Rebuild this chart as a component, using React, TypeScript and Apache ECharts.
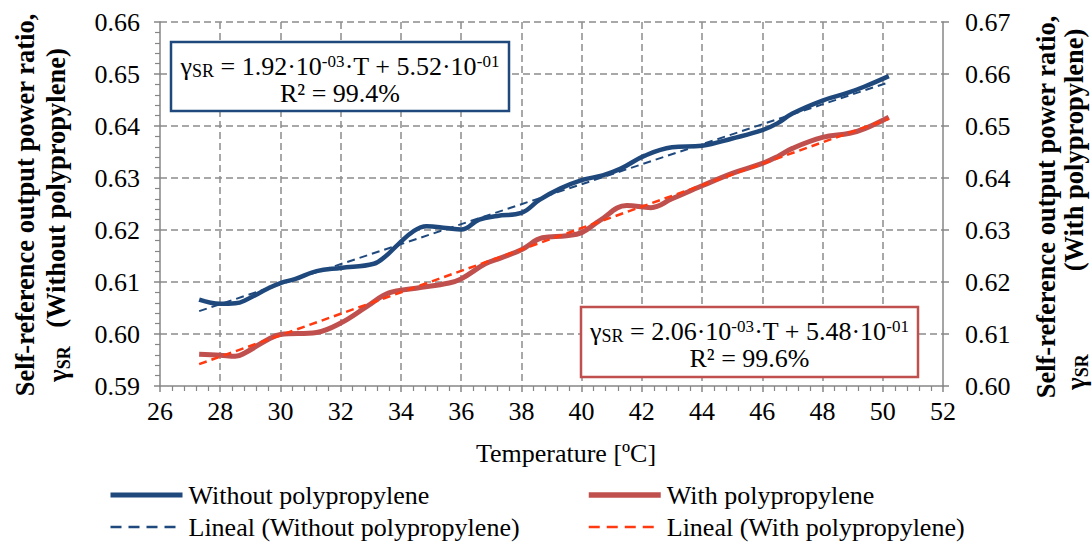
import React, { useEffect, useRef } from "react";
import * as echarts from "echarts";

const FONT = "Liberation Serif";

// Without polypropylene (left axis)
const T_WITHOUT = [27.3, 28.0, 28.5, 28.8, 29.6, 30.0, 30.5, 31.2, 32.0, 33.1, 33.5, 33.9, 34.4, 34.85, 35.5, 36.0, 36.6, 37.2, 38.0, 38.6, 39.3, 40.0, 40.7, 41.3, 42.1, 43.0, 44.0, 45.0, 46.0, 46.5, 47.0, 48.0, 48.8, 49.4, 50.2];
const V_WITHOUT = [0.6066, 0.6058, 0.6059, 0.6064, 0.6088, 0.6098, 0.6106, 0.6121, 0.6127, 0.6135, 0.615, 0.6172, 0.6197, 0.6207, 0.6204, 0.6201, 0.622, 0.6227, 0.6233, 0.6258, 0.628, 0.6296, 0.6305, 0.6318, 0.6343, 0.6359, 0.6362, 0.6376, 0.6392, 0.6405, 0.6424, 0.6449, 0.6463, 0.6476, 0.6496];

// With polypropylene (right axis)
const T_WITH = [27.3, 28.0, 28.5, 28.8, 29.6, 30.0, 31.2, 32.0, 32.9, 33.6, 34.5, 35.6, 36.0, 36.8, 37.3, 38.0, 38.7, 39.5, 40.0, 40.6, 41.5, 42.3, 43.0, 44.0, 45.0, 46.0, 46.5, 47.0, 48.0, 48.9, 49.4, 50.2];
const V_WITH = [0.6061, 0.6059, 0.6057, 0.6063, 0.609, 0.6099, 0.6103, 0.6121, 0.6154, 0.6179, 0.6188, 0.6198, 0.6206, 0.6235, 0.6246, 0.6262, 0.6285, 0.6289, 0.6295, 0.6318, 0.6347, 0.6343, 0.636, 0.6385, 0.6409, 0.6428, 0.6441, 0.6457, 0.6478, 0.6486, 0.6495, 0.6517];

// Linear trend end points
const TREND_T = [27.3, 50.2];
const TREND_WITHOUT = [0.6044, 0.6484];
const TREND_WITH = [0.6042, 0.6514];

const NAMES = ["Without polypropylene", "With polypropylene", "Lineal (Without polypropylene)", "Lineal (With polypropylene)"];

const BLUE = "#1F497D";
const RED = "#C0504D";
const RED_DASH = "#FF3A10";
const AXIS = "#868686";
const GRID = "#8C8C8C";

const zip = (a: number[], b: number[]) => a.map((x, i) => [x, b[i]]);

export default function App() {
  const ref = useRef<HTMLDivElement>(null);
  useEffect(() => {
    if (!ref.current) return;
    const chart = echarts.init(ref.current, null, { renderer: "svg" });
    const labelStyle = { fontFamily: FONT, fontSize: 26, color: "#000" };
    const richEq = {
      n: { fontFamily: FONT, fontSize: 26, lineHeight: 27, color: "#000" },
      s: { fontFamily: FONT, fontSize: 18, lineHeight: 16, verticalAlign: "bottom", color: "#000" },
      p: { fontFamily: FONT, fontSize: 17, lineHeight: 14, verticalAlign: "top", color: "#000" },
    };
    const richTitle = {
      g: { fontFamily: FONT, fontSize: 26.5, fontWeight: "bold", lineHeight: 30, color: "#000" },
      s: { fontFamily: FONT, fontSize: 18, fontWeight: "bold", lineHeight: 18, verticalAlign: "bottom", color: "#000" },
    };
    const titleStyle = { fontFamily: FONT, fontSize: 26.5, fontWeight: "bold", fill: "#000", align: "center", verticalAlign: "middle" };
    const legendBase = {
      orient: "vertical", top: 477, height: 80, itemWidth: 72, itemHeight: 14, itemGap: 6,
      itemStyle: { opacity: 0 },
      textStyle: { ...labelStyle, lineHeight: 26, padding: [0, 0, 0, 1] },
    };
    chart.setOption({
      animation: false,
      grid: { left: 160, right: 149, top: 22, bottom: 160 },
      xAxis: {
        type: "value", min: 26, max: 52, interval: 2,
        axisLine: { show: true, lineStyle: { color: AXIS, width: 1.5 } },
        axisTick: { show: true, length: 6, lineStyle: { color: AXIS, width: 1.5 } },
        minorTick: { show: true, splitNumber: 5, length: 5, lineStyle: { color: AXIS, width: 1.2 } },
        splitLine: { show: true, showMinLine: false, showMaxLine: false, lineStyle: { color: GRID, width: 1.5, type: [7, 4] } },
        axisLabel: { ...labelStyle, margin: 12 },
      },
      yAxis: [
        {
          type: "value", min: 0.59, max: 0.66, interval: 0.01,
          axisLine: { show: true, lineStyle: { color: AXIS, width: 1.5 } },
          axisTick: { show: true, length: 6, lineStyle: { color: AXIS, width: 1.5 } },
          minorTick: { show: true, splitNumber: 5, length: 5, lineStyle: { color: AXIS, width: 1.2 } },
          splitLine: { show: true, showMinLine: false, lineStyle: { color: GRID, width: 1.5, type: [7, 4] } },
          axisLabel: { ...labelStyle, margin: 20, formatter: (v: number) => v.toFixed(2) },
        },
        {
          type: "value", position: "right", min: 0.6, max: 0.67, interval: 0.01,
          axisLine: { show: true, lineStyle: { color: AXIS, width: 1.5 } },
          axisTick: { show: true, length: 6, lineStyle: { color: AXIS, width: 1.5 } },
          splitLine: { show: false },
          axisLabel: { ...labelStyle, margin: 22, formatter: (v: number) => v.toFixed(2) },
        },
      ],
      legend: [
        {
          ...legendBase, left: 103,
          data: [
            { name: NAMES[0], lineStyle: { width: 5 } },
            { name: NAMES[2], lineStyle: { width: 2.5, type: [11, 7] } },
          ],
        },
        {
          ...legendBase, left: 581,
          data: [
            { name: NAMES[1], lineStyle: { width: 5.5 } },
            { name: NAMES[3], lineStyle: { width: 2.5, type: [11, 7] } },
          ],
        },
      ],
      series: [
        {
          name: NAMES[0], type: "line", yAxisIndex: 0, data: zip(T_WITHOUT, V_WITHOUT), smooth: 0.4,
          symbol: "none", color: BLUE, lineStyle: { color: BLUE, width: 4.5 }, z: 3,
        },
        {
          name: NAMES[1], type: "line", yAxisIndex: 1, data: zip(T_WITH, V_WITH), smooth: 0.4,
          symbol: "none", color: RED, lineStyle: { color: RED, width: 5 }, z: 3,
        },
        {
          name: NAMES[2], type: "line", yAxisIndex: 0, data: zip(TREND_T, TREND_WITHOUT),
          symbol: "none", color: BLUE, lineStyle: { color: BLUE, width: 2, type: [8, 5] }, z: 4,
        },
        {
          name: NAMES[3], type: "line", yAxisIndex: 1, data: zip(TREND_T, TREND_WITH),
          symbol: "none", color: RED_DASH, lineStyle: { color: RED_DASH, width: 2.5, type: [8, 5] }, z: 4,
        },
      ],
      graphic: [
        { type: "rect", shape: { x: 171, y: 42, width: 338, height: 69 }, style: { fill: "#fff", stroke: BLUE, lineWidth: 2.5 }, z: 10 },
        {
          type: "text", x: 340, y: 80, z: 11,
          style: {
            text: "{n|γ}{s|SR}{n| = 1.92·10}{p|-03}{n|·T + 5.52·10}{p|-01}\n{n|R² = 99.4%}",
            rich: richEq, align: "center", verticalAlign: "middle", fontFamily: FONT, fontSize: 26, fill: "#000",
          },
        },
        { type: "rect", shape: { x: 581, y: 307, width: 337, height: 70 }, style: { fill: "#fff", stroke: RED, lineWidth: 2.5 }, z: 10 },
        {
          type: "text", x: 749.5, y: 345, z: 11,
          style: {
            text: "{n|γ}{s|SR}{n| = 2.06·10}{p|-03}{n|·T + 5.48·10}{p|-01}\n{n|R² = 99.6%}",
            rich: richEq, align: "center", verticalAlign: "middle", fontFamily: FONT, fontSize: 26, fill: "#000",
          },
        },
        { type: "text", x: 566, y: 453, style: { text: "Temperature [ºC]", fontFamily: FONT, fontSize: 26, fill: "#000", align: "center", verticalAlign: "middle" } },
        { type: "text", x: 25, y: 205, rotation: Math.PI / 2, style: { text: "Self-reference output power ratio,", ...titleStyle } },
        { type: "text", x: 56, y: 188, rotation: Math.PI / 2, style: { text: "(Without polypropylene)", ...titleStyle } },
        { type: "text", x: 58, y: 364, rotation: Math.PI / 2, style: { text: "{g|γ}{s|SR}", rich: richTitle, ...titleStyle } },
        { type: "text", x: 1046, y: 207, rotation: Math.PI / 2, style: { text: "Self-reference output power ratio,", ...titleStyle } },
        { type: "text", x: 1074, y: 150, rotation: Math.PI / 2, style: { text: "(With polypropylene)", ...titleStyle } },
        { type: "text", x: 1076, y: 372, rotation: Math.PI / 2, style: { text: "{g|γ}{s|SR}", rich: richTitle, ...titleStyle } },
      ],
    });
    return () => chart.dispose();
  }, []);
  return <div ref={ref} style={{ position: "fixed", left: 0, top: 0, width: 1092, height: 546, background: "#fff" }} />;
}
